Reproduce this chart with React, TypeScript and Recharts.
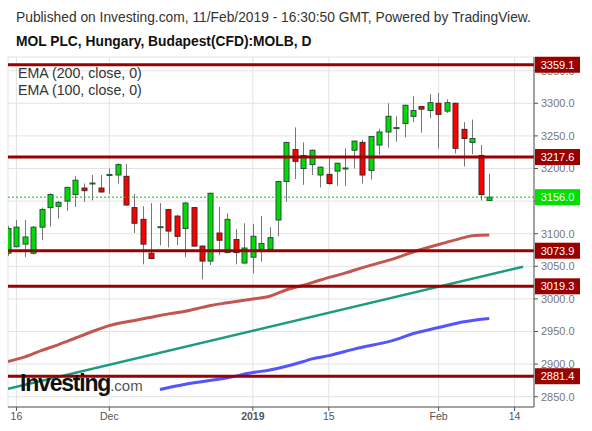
import { ComposedChart, Bar, Line, XAxis, YAxis, CartesianGrid, ReferenceLine } from 'recharts';

const FONT = '"Liberation Sans", Arial, sans-serif';

// daily candles, index 0 = 15 Nov 2018 ... index 57 = last bar
const opens = [
  3070, 3080, 3084, 3070, 3110, 3140, 3142, 3150, 3160, 3170,
  3177, 3170, 3190, 3190, 3188, 3140, 3122, 3070, 3110, 3137,
  3127, 3108, 3140, 3081, 3058, 3101, 3071, 3091, 3055, 3064,
  3076, 3076, 3121, 3180, 3229, 3200, 3206, 3190, 3191, 3196,
  3200, 3228, 3240, 3197, 3236, 3256, 3262, 3269, 3280, 3295,
  3289, 3300, 3288, 3300, 3260, 3240, 3220, 3151,
];
const highs = [
  3112, 3121, 3121, 3112, 3140, 3162, 3150, 3172, 3188, 3177,
  3190, 3190, 3200, 3208, 3207, 3161, 3142, 3147, 3147, 3138,
  3129, 3149, 3141, 3082, 3163, 3141, 3131, 3107, 3116, 3115,
  3127, 3110, 3181, 3241, 3263, 3240, 3229, 3203, 3216, 3209,
  3231, 3243, 3244, 3250, 3261, 3300, 3280, 3298, 3311, 3296,
  3314, 3316, 3306, 3301, 3271, 3275, 3236, 3192,
];
const lows = [
  3066, 3079, 3064, 3068, 3090, 3111, 3123, 3135, 3141, 3149,
  3151, 3163, 3161, 3177, 3143, 3101, 3053, 3061, 3082, 3079,
  3082, 3064, 3080, 3030, 3052, 3067, 3070, 3053, 3054, 3039,
  3057, 3075, 3096, 3149, 3184, 3175, 3190, 3171, 3175, 3173,
  3173, 3200, 3177, 3183, 3221, 3232, 3241, 3248, 3271, 3255,
  3277, 3231, 3285, 3223, 3203, 3222, 3151, 3151,
];
const closes = [
  3108, 3110, 3095, 3110, 3137, 3160, 3148, 3171, 3182, 3166,
  3177, 3164, 3190, 3206, 3144, 3116, 3084, 3062, 3110, 3104,
  3096, 3147, 3081, 3058, 3162, 3090, 3122, 3071, 3078, 3096,
  3085, 3094, 3180, 3240, 3211, 3220, 3228, 3202, 3177, 3208,
  3200, 3242, 3190, 3249, 3256, 3280, 3262, 3297, 3289, 3291,
  3301, 3283, 3301, 3231, 3246, 3246, 3160, 3156,
];

// EMA (100, close) readings at bar index
const ema100Idx = [0, 2, 4, 6, 8, 10, 12, 15, 17, 19, 21, 23, 24, 26, 29, 31, 33, 35, 37, 40, 42, 46, 48, 52, 54, 55, 57];
const ema100Val = [2904, 2911, 2921, 2930, 2940, 2950, 2959, 2967, 2972, 2977, 2981, 2987, 2990, 2994, 3000, 3004, 3014, 3021, 3029, 3040, 3048, 3063, 3072, 3087, 3094, 3097, 3098];

// EMA (200, close) readings at bar index
const ema200Idx = [18, 21, 26, 29, 31, 35, 36, 38, 41, 46, 48, 51, 54, 55, 57];
const ema200Val = [2861, 2869, 2879, 2887, 2891, 2904, 2908, 2913, 2923, 2938, 2947, 2956, 2965, 2967, 2970];

// rising trendline end points
const trendIdx = [0, 61];
const trendVal = [2862, 3049.4];

// horizontal support / resistance levels
const levels = [3359.1, 3217.6, 3073.9, 3019.3, 2881.4];

const tickIdx = [1, 12, 29, 38, 51, 60];
const tickText = ['16', 'Dec', '2019', '15', 'Feb', '14'];
const yTicks = [2850, 2900, 2950, 3000, 3050, 3100, 3150, 3200, 3250, 3300, 3350];

const candles = opens.map((o, i) => ({
  i,
  o,
  h: highs[i],
  l: lows[i],
  c: closes[i],
  range: [lows[i], highs[i]],
}));
const ema100 = ema100Idx.map((i, k) => ({ i, v: ema100Val[k] }));
const ema200 = ema200Idx.map((i, k) => ({ i, v: ema200Val[k] }));
const trend = trendIdx.map((i, k) => ({ i, v: trendVal[k] }));
const lastClose = closes[closes.length - 1];
const tagValues = [...levels, lastClose];

const Candle = (p: any) => {
  const { x, y, width, height, payload } = p;
  const { o, h, l, c } = payload;
  const k = height / (h - l);
  const cx = Math.round(x + width / 2) + 0.5;
  const top = y + (h - Math.max(o, c)) * k;
  const bot = y + (h - Math.min(o, c)) * k;
  const up = c >= o;
  return (
    <g>
      <line x1={cx} x2={cx} y1={y} y2={y + height} stroke="#777" strokeWidth={1} />
      {o === c ? (
        <line x1={cx - 3} x2={cx + 3} y1={top} y2={top} stroke="#2a5a3a" strokeWidth={2} />
      ) : (
        <rect
          x={cx - 2.5}
          y={top}
          width={5}
          height={Math.max(bot - top, 1)}
          fill={up ? '#00dc00' : '#ff0000'}
          stroke={up ? '#27503a' : '#4a2222'}
          strokeWidth={1}
        />
      )}
    </g>
  );
};

const XTick = ({ x, y, payload }: any) => {
  const t = tickText[tickIdx.indexOf(payload.value)];
  return (
    <text x={x} y={y} dy="0.71em" textAnchor="middle" fontSize={10.5} fontFamily={FONT}
      fill="#555" fontWeight={t === '2019' ? 'bold' : 'normal'}>
      {t}
    </text>
  );
};

// price boxes sit on top of the right scale
const TagTick = ({ y, payload }: any) => {
  const v = payload.value;
  const fill = v === lastClose ? '#00e000' : '#990000';
  return (
    <g>
      <rect x={535} y={y - 8} width={45} height={16} fill={fill} />
      <text x={557.5} y={y} dy="0.36em" textAnchor="middle" fontSize={11} fontFamily={FONT} fill="#fff">
        {v.toFixed(1)}
      </text>
    </g>
  );
};

const txt = (top: number, left: number, extra: any = {}) => ({
  position: 'absolute' as const,
  top,
  left,
  fontFamily: FONT,
  fontSize: 13.8,
  lineHeight: '15px',
  color: '#333',
  whiteSpace: 'nowrap' as const,
  ...extra,
});

export default function App() {
  return (
    <div style={{ position: 'absolute', left: 0, top: 0, width: 592, height: 431, background: '#fff' }}>
      <ComposedChart width={592} height={431} data={candles} margin={{ top: 57, right: 0, bottom: 0, left: 8 }}>
        <CartesianGrid stroke="#e3e3e3" />
        <XAxis
          dataKey="i"
          type="number"
          domain={[0, 62.3]}
          allowDataOverflow
          ticks={tickIdx}
          interval={0}
          tick={<XTick />}
          tickSize={4}
          tickMargin={2}
          tickLine={{ stroke: '#555' }}
          axisLine={{ stroke: '#555' }}
          height={24}
        />
        <YAxis
          orientation="right"
          type="number"
          domain={[2834.2, 3371]}
          allowDataOverflow
          ticks={yTicks}
          interval={0}
          width={57}
          tickSize={4}
          tickMargin={3}
          tickFormatter={(v: number) => v.toFixed(1)}
          tick={{ fill: '#777', fontSize: 11, fontFamily: FONT }}
          tickLine={{ stroke: '#555' }}
          axisLine={{ stroke: '#555' }}
        />
        <YAxis
          yAxisId="tags"
          orientation="right"
          type="number"
          domain={[2834.2, 3371]}
          allowDataOverflow
          ticks={tagValues}
          interval={0}
          width={1}
          axisLine={false}
          tickLine={false}
          tick={<TagTick />}
        />
        <ReferenceLine y={lastClose} stroke="#00c800" strokeDasharray="2 2" />
        <Bar dataKey="range" barSize={6} shape={Candle} isAnimationActive={false} />
        <Line data={trend} dataKey="v" type="linear" stroke="#1b9c80" strokeWidth={2.5} dot={false} isAnimationActive={false} />
        <Line data={ema100} dataKey="v" type="monotone" stroke="#c25650" strokeWidth={3} dot={false} isAnimationActive={false} />
        <Line data={ema200} dataKey="v" type="monotone" stroke="#5555ff" strokeWidth={3} dot={false} isAnimationActive={false} />
        {levels.map((v) => (
          <ReferenceLine key={v} y={v} stroke="#990000" strokeWidth={3} />
        ))}
      </ComposedChart>
      <div style={txt(10, 16)}>Published on Investing.com, 11/Feb/2019 - 16:30:50 GMT, Powered by TradingView.</div>
      <div style={txt(34, 16, { fontWeight: 'bold', color: '#111' })}>MOL PLC, Hungary, Budapest(CFD):MOLB, D</div>
      <div style={txt(66, 18, { fontSize: 14.2 })}>EMA (200, close, 0)</div>
      <div style={txt(83, 18, { fontSize: 14.2 })}>EMA (100, close, 0)</div>
      <div style={{ position: 'absolute', left: 20, top: 370, fontFamily: FONT, whiteSpace: 'nowrap', lineHeight: '26px' }}>
        <span style={{ fontSize: 23, fontWeight: 'bold', color: '#111', letterSpacing: -1.2 }}>Investing</span>
        <span style={{ fontSize: 15, color: '#555' }}>.com</span>
      </div>
    </div>
  );
}
